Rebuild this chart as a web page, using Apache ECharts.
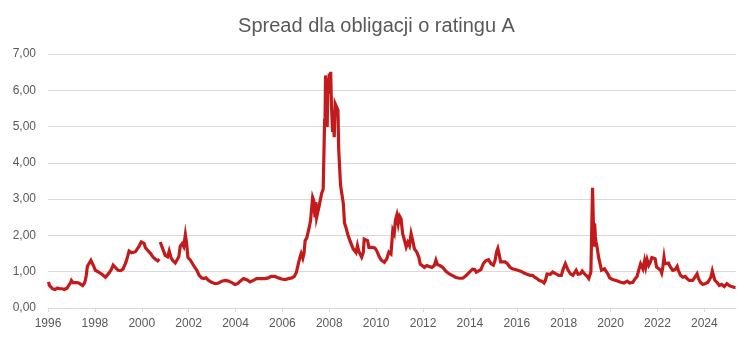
<!DOCTYPE html>
<html>
<head>
<meta charset="utf-8">
<script src="https://cdn.jsdelivr.net/npm/echarts@6/dist/echarts.min.js"></script>
<style>
  html, body { margin: 0; padding: 0; background: #fff; }
  #chart { width: 753px; height: 340px; }
</style>
</head>
<body>
<div id="chart"></div>
<script>
// Chart title and axis settings
const chartTitle = 'Spread dla obligacji o ratingu A';
const yTicks = [0, 1, 2, 3, 4, 5, 6, 7];
const xTickYears = [1996, 1998, 2000, 2002, 2004, 2006, 2008, 2010, 2012, 2014, 2016, 2018, 2020, 2022, 2024];

// Observation dates (decimal years) and spread values in percentage points; null marks a data gap
const dates = [
  1996.02, 1996.06, 1996.12, 1996.2, 1996.3, 1996.4, 1996.5, 1996.6, 1996.7, 1996.78, 1996.82, 1996.88, 1996.95,
  1997.0, 1997.07, 1997.15, 1997.24, 1997.33, 1997.4, 1997.48, 1997.55, 1997.6, 1997.63, 1997.68, 1997.75, 1997.83, 1997.9, 1997.95,
  1998.02, 1998.1, 1998.16, 1998.23, 1998.3, 1998.38, 1998.45, 1998.52, 1998.6, 1998.7, 1998.78, 1998.86, 1998.99,
  1999.1, 1999.2, 1999.26, 1999.33, 1999.41, 1999.46, 1999.58, 1999.66, 1999.73, 1999.8, 1999.88, 1999.98,
  2000.04, 2000.1, 2000.15, 2000.22, 2000.3, 2000.38, 2000.47, 2000.57, 2000.68, 2000.75, 2000.77, 2000.79, 2000.86, 2000.94,
  2001.0, 2001.1, 2001.17, 2001.25, 2001.33, 2001.43, 2001.5, 2001.58, 2001.64, 2001.72, 2001.79, 2001.86, 2001.91, 2001.97,
  2002.06, 2002.15, 2002.25, 2002.35, 2002.45, 2002.55, 2002.64, 2002.74, 2002.85,
  2003.0, 2003.14, 2003.28, 2003.42, 2003.56, 2003.7, 2003.84, 2003.98,
  2004.09, 2004.2, 2004.34, 2004.48, 2004.62, 2004.76, 2004.9,
  2005.08, 2005.26, 2005.4, 2005.52, 2005.68, 2005.83, 2005.97,
  2006.11, 2006.25, 2006.4, 2006.51, 2006.6, 2006.68, 2006.75, 2006.8, 2006.87, 2006.92, 2006.97,
  2007.04, 2007.1, 2007.15, 2007.2, 2007.25, 2007.29, 2007.34, 2007.39, 2007.43, 2007.46, 2007.53, 2007.57, 2007.62, 2007.67, 2007.74, 2007.77, 2007.8, 2007.82, 2007.84, 2007.88, 2007.91, 2007.94, 2007.97,
  2008.0, 2008.03, 2008.06, 2008.09, 2008.11, 2008.14, 2008.17, 2008.21, 2008.25, 2008.31, 2008.37, 2008.4, 2008.45, 2008.48, 2008.54, 2008.6, 2008.65, 2008.71, 2008.76, 2008.8, 2008.86, 2008.91, 2008.97,
  2009.02, 2009.09, 2009.14, 2009.2, 2009.25, 2009.31, 2009.38, 2009.45, 2009.49, 2009.56, 2009.63, 2009.69, 2009.76, 2009.85, 2009.95,
  2010.02, 2010.09, 2010.14, 2010.22, 2010.35, 2010.45, 2010.54, 2010.63, 2010.71, 2010.77, 2010.82, 2010.88, 2010.94,
  2011.0, 2011.06, 2011.13, 2011.21, 2011.28, 2011.35, 2011.42, 2011.49, 2011.56, 2011.63, 2011.73, 2011.82, 2011.88, 2011.96,
  2012.06, 2012.16, 2012.28, 2012.38, 2012.48, 2012.55, 2012.62, 2012.72, 2012.84, 2012.98,
  2013.12, 2013.26, 2013.4, 2013.55, 2013.69, 2013.83, 2013.97,
  2014.11, 2014.2, 2014.27, 2014.36, 2014.47, 2014.57, 2014.67, 2014.79, 2014.9,
  2015.0, 2015.07, 2015.14, 2015.19, 2015.24, 2015.31, 2015.39, 2015.5, 2015.6, 2015.7, 2015.81, 2015.93,
  2016.04, 2016.19, 2016.29, 2016.43, 2016.57, 2016.67, 2016.76, 2016.86, 2016.96,
  2017.07, 2017.16, 2017.22, 2017.29, 2017.43, 2017.53, 2017.61, 2017.67, 2017.79, 2017.9, 2017.97,
  2018.07, 2018.14, 2018.19, 2018.29, 2018.39, 2018.47, 2018.53, 2018.61, 2018.71, 2018.79, 2018.9, 2018.99,
  2019.07, 2019.12, 2019.16, 2019.2, 2019.23, 2019.26, 2019.29, 2019.32, 2019.35, 2019.38, 2019.42, 2019.46, 2019.5, 2019.55, 2019.61, 2019.67, 2019.74, 2019.82, 2019.89, 2019.96,
  2020.1, 2020.24, 2020.31, 2020.43, 2020.57, 2020.71, 2020.81, 2020.95,
  2021.05, 2021.13, 2021.2, 2021.28, 2021.33, 2021.38, 2021.45, 2021.5, 2021.56, 2021.63, 2021.7, 2021.76, 2021.84, 2021.9, 2021.96,
  2022.01, 2022.13, 2022.18, 2022.23, 2022.28, 2022.32, 2022.4, 2022.47, 2022.55, 2022.65, 2022.75, 2022.84, 2022.89, 2022.98,
  2023.08, 2023.18, 2023.26, 2023.36, 2023.5, 2023.6, 2023.69, 2023.75, 2023.83, 2023.93,
  2024.03, 2024.15, 2024.21, 2024.28, 2024.34, 2024.39, 2024.45, 2024.54, 2024.64, 2024.74, 2024.85, 2024.96,
  2025.06, 2025.16, 2025.28, 2025.33
];
const spread = [
  0.72, 0.62, 0.57, 0.53, 0.51, 0.55, 0.53, 0.53, 0.51, 0.47, 0.55, 0.62, 0.68,
  0.76, 0.70, 0.71, 0.70, 0.68, 0.66, 0.62, 0.68, 0.78, 0.89, 1.15, 1.18, 1.31, 1.33, 1.15,
  1.04, 1.01, 0.99, 1.02, 0.93, 0.89, 0.85, 0.89, 0.96, 1.06, 1.18, 1.13, 1.04,
  1.03, 1.07, 1.11, 1.27, 1.45, 1.57, 1.52, 1.53, 1.55, 1.59, 1.70, 1.82,
  1.87, 1.78, 1.67, 1.61, 1.64, 1.50, 1.41, 1.35, 1.30, 1.35, null, 1.82, 1.69, 1.74,
  1.45, 1.41, 1.57, 1.38, 1.30, 1.24, 1.27, 1.41, 1.70, 1.77, 1.69, 2.02, 1.80, 1.39,
  1.33, 1.24, 1.13, 1.04, 0.90, 0.83, 0.81, 0.83, 0.76,
  0.70, 0.67, 0.69, 0.74, 0.76, 0.74, 0.70, 0.65,
  0.67, 0.74, 0.81, 0.78, 0.72, 0.76, 0.81,
  0.81, 0.81, 0.83, 0.87, 0.87, 0.83, 0.80,
  0.78, 0.81, 0.83, 0.87, 0.99, 1.22, 1.40, 1.50, 1.37, 1.50, 1.86,
  1.93, 1.97, 2.24, 2.41, 2.45, 3.05, 2.96, 2.50, 2.92, 2.50, 2.52, 2.82, 2.85, 3.15, 3.28, 3.33, 5.17, 5.26, 6.41, 6.09, 4.99, 6.28, 5.91,
  6.46, 6.09, 6.51, 5.63, 5.59, 4.85, 5.17, 4.71, 5.63, 5.54, 5.45, 4.39, 4.34, 3.38, 3.33, 2.87, 2.34, 2.22, 2.18, 2.00, 1.95, 1.81, 1.86,
  1.63, 1.67, 1.53, 1.72, 1.58, 1.49, 1.40, 1.53, 1.90, 1.93, 1.86, 1.67, 1.72, 1.67, 1.65,
  1.58, 1.53, 1.40, 1.32, 1.26, 1.35, 1.54, 1.49, 2.14, 2.05, 2.42, 2.56, 2.32,
  2.53, 2.46, 2.05, 1.86, 1.68, 1.81, 1.72, 2.05, 1.86, 1.63, 1.54, 1.40, 1.21, 1.26,
  1.12, 1.17, 1.14, 1.12, 1.17, 1.32, 1.19, 1.17, 1.12, 1.01,
  0.94, 0.89, 0.84, 0.82, 0.82, 0.89, 0.98,
  1.07, 1.06, 0.99, 1.02, 1.06, 1.22, 1.30, 1.33, 1.22,
  1.18, 1.31, 1.55, 1.64, 1.50, 1.27, 1.22, 1.27, 1.22, 1.13, 1.08, 1.06,
  1.04, 1.01, 0.97, 0.93, 0.90, 0.90, 0.85, 0.81, 0.76,
  0.74, 0.69, 0.76, 0.94, 0.93, 0.99, 1.04, 0.94, 0.90, 0.90, 1.06,
  1.22, 1.27, 1.04, 0.94, 0.90, 0.94, 1.04, 0.93, 0.94, 1.02, 0.93, 0.88,
  0.81, 0.76, 0.99, 1.04, 3.31, 3.26, 1.69, 2.33, 1.96, 1.82, 1.69, 1.64, 1.36, 1.22, 1.04, 0.99, 1.08, 1.04, 0.93, 0.83,
  0.78, 0.76, 0.81, 0.71, 0.69, 0.74, 0.69, 0.71,
  0.81, 0.87, 1.04, 1.22, 1.27, 1.08, 1.30, 1.13, 1.33, 1.18, 1.27, 1.39, 1.43, 1.36, 1.13,
  1.08, 1.04, 0.96, 1.13, 1.39, 1.22, 1.18, 1.24, 1.13, 1.04, 1.06, 1.15, 1.04, 0.90,
  0.85, 0.87, 0.81, 0.76, 0.76, 0.85, 0.94, 0.81, 0.71, 0.65,
  0.67, 0.71, 0.76, 0.85, 1.02, 0.90, 0.76, 0.71, 0.62, 0.65, 0.59, 0.67,
  0.62, 0.59, 0.57, 0.57
];

const seriesData = dates.map((d, i) => [d, spread[i] === null ? '-' : spread[i]]);

const gridColor = '#d9d9d9';
const textColor = '#595959';
const fontFamily = 'Liberation Sans, Arial, sans-serif';

const chart = echarts.init(document.getElementById('chart'), null, { renderer: 'canvas' });
chart.setOption({
  animation: false,
  backgroundColor: '#ffffff',
  title: {
    text: chartTitle,
    left: 'center',
    top: 11,
    textStyle: {
      fontFamily: fontFamily,
      fontSize: 20,
      fontWeight: 'normal',
      color: textColor
    }
  },
  grid: { left: 48, right: 17, top: 54, bottom: 32, containLabel: false },
  xAxis: {
    type: 'value',
    min: 1996,
    max: 2025.35,
    interval: 2,
    splitLine: { show: false },
    axisLine: { show: true, lineStyle: { color: gridColor, width: 1 } },
    axisTick: {
      show: true,
      length: 4,
      lineStyle: { color: gridColor },
      customValues: xTickYears
    },
    axisLabel: {
      color: textColor,
      fontFamily: fontFamily,
      fontSize: 12,
      margin: 10,
      customValues: xTickYears,
      formatter: v => String(Math.round(v))
    }
  },
  yAxis: {
    type: 'value',
    min: yTicks[0],
    max: yTicks[yTicks.length - 1],
    interval: 1,
    axisLine: { show: false },
    axisTick: { show: false },
    splitLine: { lineStyle: { color: gridColor, width: 1 } },
    axisLabel: {
      color: textColor,
      fontFamily: fontFamily,
      fontSize: 12,
      margin: 12,
      formatter: v => v.toFixed(2).replace('.', ',')
    }
  },
  series: [{
    type: 'line',
    data: seriesData,
    showSymbol: false,
    connectNulls: false,
    lineStyle: { color: '#c31b1b', width: 3.2, join: 'miter' },
    itemStyle: { color: '#c31b1b' }
  }]
});
</script>
</body>
</html>
